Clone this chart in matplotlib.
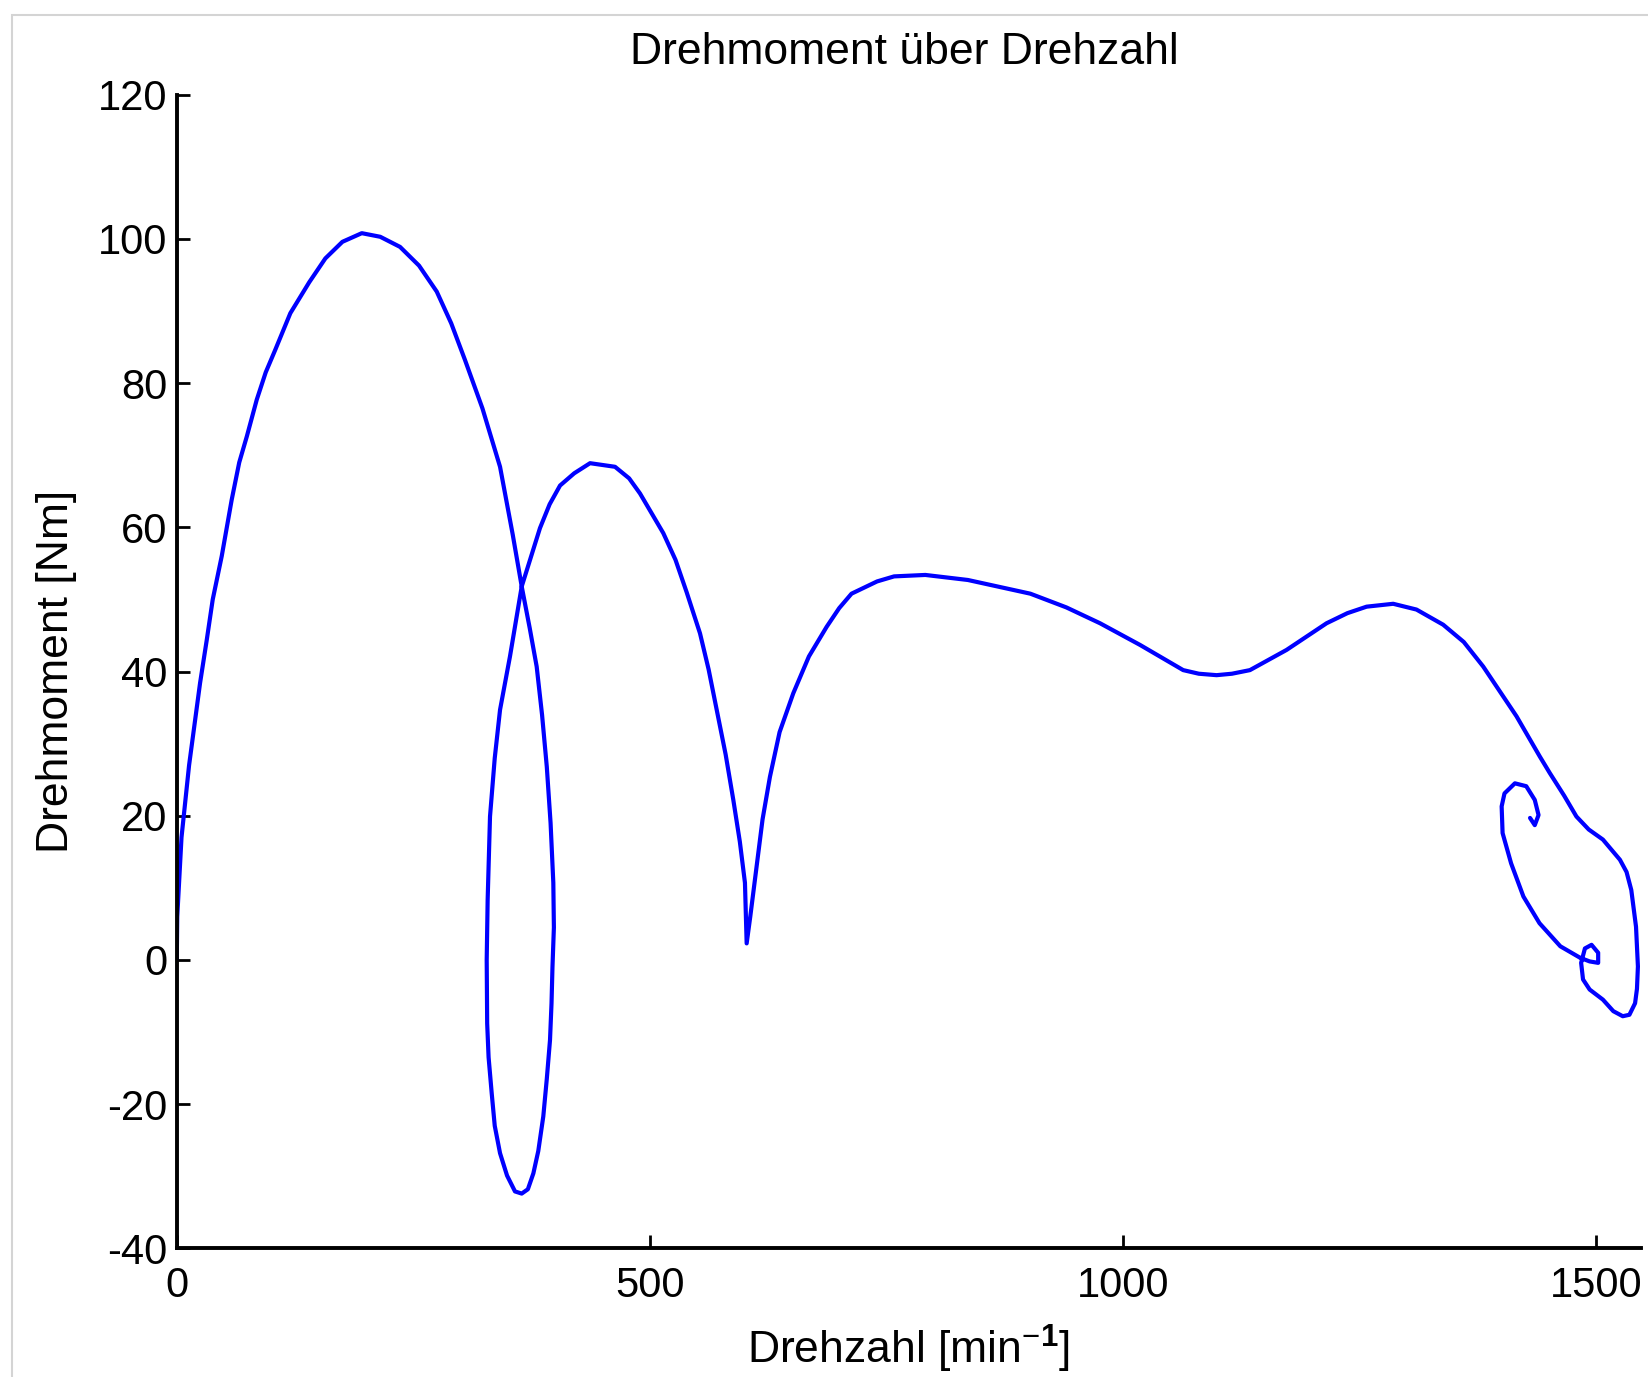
import numpy as np
import matplotlib.pyplot as plt
from matplotlib.patches import Rectangle

anlauf = [(0, 0), (0.5, 6), (5, 17), (13, 27), (24.6, 38.4), (31.7, 44.4), (38, 50),
          (47.5, 56), (58, 63.8), (66, 69), (74, 72.6), (84.5, 77.7), (94, 81.5), (104, 84.6),
          (120, 89.7), (140, 94), (157, 97.3), (175, 99.6),
          (195.5, 100.8), (215, 100.3), (235.9, 98.9), (256, 96.3), (274.7, 92.7), (290, 88.3),
          (304.6, 83.2), (323, 76.5), (341.6, 68.4), (355, 59), (364.5, 51.8), (373, 46),
          (380.3, 40.7), (386, 34), (391, 26.8), (395, 19), (397.9, 10.7), (398.5, 4.5),
          (397, -1), (396, -6), (394.4, -11.1), (391, -16.5), (387.3, -21.7), (382, -26.5),
          (376.8, -29.6), (371, -31.8), (364.5, -32.4), (357.4, -32.1), (349, -29.9),
          (341.6, -26.8), (336, -23), (332.8, -18.5), (329.5, -13.5), (328, -8.8), (327.5, 0),
          (328.5, 8.3), (331, 19.9), (336, 28), (341.6, 34.7), (352.1, 42.1), (364.5, 51.8)]
zweiter_buckel = [(373.3, 55.5), (383.8, 59.9), (394, 63.2), (405, 65.8), (420, 67.5),
                  (436.7, 68.9), (463.1, 68.4), (478, 66.8), (489.5, 64.7), (514.1, 59.2),
                  (527, 55.5), (538.8, 51), (552.9, 45.3), (562, 40.3), (570.5, 34.7),
                  (580, 28.5), (588.1, 22.2), (595, 16.4), (600.4, 10.7), (602.2, 2.3), (606, 6),
                  (612.8, 13), (619, 19.5), (626.8, 25.4), (637, 31.6), (651.5, 37), (668, 42.1),
                  (686.7, 46.2), (700, 48.8), (713, 50.8)]
plateau = [(740, 52.5), (758, 53.2), (791, 53.4), (836, 52.7), (902, 50.8), (940, 48.9),
           (975.6, 46.7), (1017.8, 43.7), (1063.5, 40.2), (1080, 39.7), (1098.8, 39.5),
           (1115, 39.7), (1134, 40.2), (1172.7, 43), (1215, 46.7), (1237, 48.1), (1257.3, 49),
           (1285.4, 49.4), (1310, 48.6), (1338.2, 46.5), (1360, 44.1), (1380.5, 40.7),
           (1415.7, 33.8), (1440.4, 28.2)]
auslauf = [(1451, 25.9), (1466, 22.8), (1479, 19.9), (1492, 18.1), (1507, 16.7), (1525, 13.9),
           (1532, 12.2), (1537, 9.7), (1542, 4.6), (1544, -0.9), (1543, -4), (1541, -6),
           (1535, -7.6), (1528, -7.8), (1518, -7.1), (1507, -5.5), (1493, -4.1), (1486, -2.7),
           (1484, -0.4), (1488, 1.6), (1495, 2.1), (1502, 1.0), (1502, -0.4), (1493, -0.2),
           (1483, 0.3), (1462, 1.9), (1440, 5.1), (1423, 8.8), (1410, 13.4), (1401, 17.6),
           (1400, 21.3), (1403, 23.1), (1414, 24.5), (1426, 24.1), (1435, 22.2), (1439, 20.1),
           (1435, 18.7), (1430, 19.7)]
x_ticks = [0, 500, 1000, 1500]
y_ticks = [-40, -20, 0, 20, 40, 60, 80, 100, 120]

kurve = np.array(anlauf + zweiter_buckel + plateau + auslauf)
drehzahl = kurve[:, 0]
drehmoment = kurve[:, 1]

plt.rcParams['font.family'] = ['Liberation Sans', 'DejaVu Sans']
plt.rcParams['axes.unicode_minus'] = False
plt.rcParams['mathtext.fontset'] = 'custom'
plt.rcParams['mathtext.rm'] = 'Liberation Sans'
plt.rcParams['mathtext.bf'] = 'Liberation Sans:bold'

fig = plt.figure(figsize=(16.49, 13.77), dpi=100)
ax = fig.add_axes([0.1072, 0.0934, 0.8878, 0.8378])

# grauer Rahmen um die Figur
fig.patches.append(Rectangle((0.0073, -0.1), 1.2, 0.989 + 0.1, transform=fig.transFigure,
                             fill=False, edgecolor='#d4d4d4', linewidth=1.5))

ax.plot(drehzahl, drehmoment, color='#0000ff', linewidth=3.0,
        solid_joinstyle='round', solid_capstyle='round')

ax.set_xlim(0, 1547)
ax.set_ylim(-40, 120)
ax.set_xticks(x_ticks)
ax.set_yticks(y_ticks)
ax.spines['top'].set_visible(False)
ax.spines['right'].set_visible(False)
ax.spines['left'].set_linewidth(2.8)
ax.spines['bottom'].set_linewidth(2.8)
ax.tick_params(direction='in', length=9.5, width=2.0, labelsize=30)
ax.tick_params(axis='x', pad=13)
ax.tick_params(axis='y', pad=7)

# Titel
ax.text(0.497, 1.027, 'Drehmoment über Drehzahl', transform=ax.transAxes,
        ha='center', va='baseline', fontsize=32)
ax.set_xlabel(r'Drehzahl [min$^{-\mathbf{1}}$]', fontsize=32, labelpad=12)
ax.set_ylabel('Drehmoment [Nm]', fontsize=32, labelpad=15)

plt.savefig('out.png', dpi=100)
